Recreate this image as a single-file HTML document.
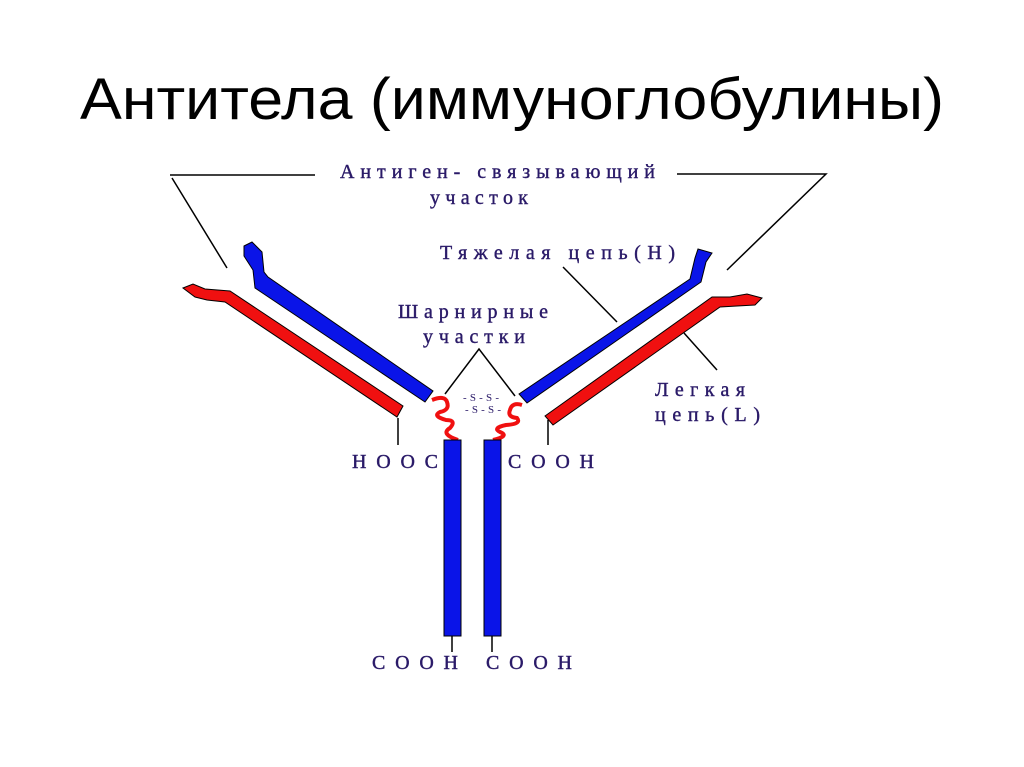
<!DOCTYPE html>
<html><head><meta charset="utf-8"><style>
html,body{margin:0;padding:0;background:#fff;}
svg{display:block}
.t{font-family:"Liberation Serif","DejaVu Serif",serif;font-size:20px;fill:#2a1a68;stroke:#2a1a68;stroke-width:0.4;}
</style></head><body>
<svg width="1024" height="767" viewBox="0 0 1024 767">
<text x="80" y="119" textLength="864" lengthAdjust="spacingAndGlyphs" font-family="Liberation Sans, sans-serif" font-size="58" fill="#000">Антитела (иммуноглобулины)</text>
<g stroke="#000" stroke-width="1.5" fill="none">
<path d="M170 175 H315 M172 178 L227 268"/>
<path d="M677 174 H826 L727 270"/>
<path d="M445 394 L479 349 L515 396"/>
<path d="M563 267 L617 322"/>
<path d="M684 333 L717 370"/>
<path d="M398 418 V445 M548 420 V445"/>
<path d="M452 636 V652 M492 636 V652"/>
</g>
<path d="M244 246 L252 242 L262 252 L264 272 L268 277 L433 391 L425 402 L255 288 L253 270 L244 256 Z" fill="#0a14e8" stroke="#000" stroke-width="1"/>
<path d="M183 288 L193 284 L205 289 L230 291 L403 406 L397 417 L225 302 L207 300 L195 297 Z" fill="#f01010" stroke="#000" stroke-width="1"/>
<path d="M519 394 L690 279 L695 258 L698 249 L712 253 L706 262 L701 282 L527 403 Z" fill="#0a14e8" stroke="#000" stroke-width="1"/>
<path d="M545 416 L712 297 L730 297 L747 294 L762 298 L755 305 L737 306 L720 307 L553 425 Z" fill="#f01010" stroke="#000" stroke-width="1"/>
<path d="M432 400 Q445 395 447 402 Q450 410 440 412 Q432 416 446 420 Q457 420 450 428 Q440 434 458 440" stroke="#f01010" stroke-width="4" fill="none"/>
<path d="M522 405 Q512 402 510 410 Q507 417 517 418 Q522 424 506 425 Q492 428 500 432 Q510 436 493 440" stroke="#f01010" stroke-width="4" fill="none"/>
<rect x="444" y="440" width="17" height="196" fill="#0a14e8" stroke="#000" stroke-width="1"/>
<rect x="484" y="440" width="17" height="196" fill="#0a14e8" stroke="#000" stroke-width="1"/>
<text class="t" x="340" y="178" textLength="315">Антиген- связывающий</text>
<text class="t" x="430" y="204" textLength="98">участок</text>
<text class="t" x="440" y="259" textLength="235">Тяжелая цепь(Н)</text>
<text class="t" x="398" y="318" textLength="150">Шарнирные</text>
<text class="t" x="423" y="343" textLength="102">участки</text>
<text class="t" x="463" y="401" style="font-size:11px;stroke-width:0" textLength="36">-S-S-</text>
<text class="t" x="465" y="413" style="font-size:11px;stroke-width:0" textLength="36">-S-S-</text>
<text class="t" x="655" y="396" textLength="90">Легкая</text>
<text class="t" x="655" y="421" textLength="105">цепь(L)</text>
<text class="t" x="352" y="468" textLength="86">HOOC</text>
<text class="t" x="508" y="468" textLength="86">COOH</text>
<text class="t" x="372" y="669" textLength="86">COOH</text>
<text class="t" x="486" y="669" textLength="86">COOH</text>
</svg>
</body></html>
